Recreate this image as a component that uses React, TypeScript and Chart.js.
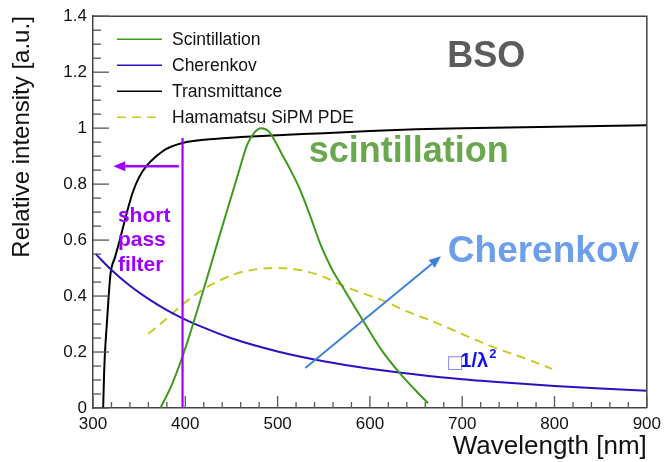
import React, { useEffect, useRef } from "react";
import { Chart, registerables } from "chart.js";

Chart.register(...registerables);

const FONT = "'Liberation Sans', Arial, Helvetica, sans-serif";

// ---- data ----
const scintWl = [373, 385, 396, 405, 414, 424, 437, 448, 458, 467, 475, 482, 490, 497, 505, 514, 523, 534, 547, 559, 570, 584, 593, 613, 633, 648, 663];
const scintVal = [0, 0.08, 0.175, 0.264, 0.36, 0.47, 0.615, 0.735, 0.845, 0.94, 0.985, 1.0, 0.99, 0.955, 0.905, 0.85, 0.79, 0.698, 0.58, 0.495, 0.435, 0.358, 0.31, 0.205, 0.122, 0.068, 0.017];

const cherWl = [303, 320, 340, 360, 380, 400, 420, 450, 500, 550, 600, 650, 700, 750, 800, 850, 900];
const cherVal = [0.55, 0.493, 0.437, 0.39, 0.35, 0.316, 0.287, 0.249, 0.202, 0.167, 0.14, 0.12, 0.103, 0.09, 0.079, 0.07, 0.062];

const transWl = [311, 312, 313, 315, 317, 319, 324, 329, 336, 343, 350, 358, 367, 379, 397, 426, 460, 500, 550, 600, 650, 700, 800, 900];
const transVal = [0, 0.12, 0.2, 0.3, 0.4, 0.48, 0.54, 0.6, 0.69, 0.77, 0.825, 0.865, 0.895, 0.925, 0.947, 0.96, 0.968, 0.975, 0.982, 0.99, 0.996, 1.0, 1.005, 1.01];

const pdeWl = [360, 380, 397, 420, 440, 460, 480, 500, 520, 545, 570, 595, 617, 640, 660, 685, 710, 739, 770, 797];
const pdeVal = [0.265, 0.32, 0.37, 0.425, 0.46, 0.485, 0.497, 0.5, 0.495, 0.475, 0.438, 0.407, 0.38, 0.345, 0.32, 0.286, 0.25, 0.211, 0.175, 0.14];

const seriesLabels = ["Scintillation", "Cherenkov", "Transmittance", "Hamamatsu SiPM PDE"];

// axis ranges / ticks
const xMin = 300, xMax = 900, xMajorStep = 100, xMinorStep = 20;
const yMin = 0, yMax = 1.4, yMajorStep = 0.2, yMinorStep = 0.05;

// annotations (data coordinates)
const filterWl = 397, filterTop = 0.965;
const filterArrowFrom = [393, 0.864], filterArrowTo = [322, 0.864];
const cherArrowFrom = [530, 0.143], cherArrowTo = [677, 0.542];
const bsoPos = [726, 1.217];
const scintTextPos = [642, 0.879];
const cherTextPos = [788, 0.521];
const filterTextPos = [327, 0.665];
const filterTextLines = ["short", "pass", "filter"];
const lambdaTextPos = [685, 0.148];

const COLORS = {
  scint: "#3d9a1a",
  cher: "#2a12c2",
  trans: "#000000",
  pde: "#c9c925",
  purple: "#a000ff",
  arrowBlue: "#3f7fdc",
};

function toXY(xs: number[], ys: number[]) {
  return xs.map((x, i) => ({ x, y: ys[i] }));
}

function drawArrow(ctx: CanvasRenderingContext2D, x1: number, y1: number, x2: number, y2: number, color: string, lw: number, head: number, hw: number) {
  const ang = Math.atan2(y2 - y1, x2 - x1);
  const bx = x2 - Math.cos(ang) * head;
  const by = y2 - Math.sin(ang) * head;
  ctx.strokeStyle = color;
  ctx.fillStyle = color;
  ctx.lineWidth = lw;
  ctx.beginPath();
  ctx.moveTo(x1, y1);
  ctx.lineTo(bx, by);
  ctx.stroke();
  ctx.beginPath();
  ctx.moveTo(x2, y2);
  ctx.lineTo(bx + Math.sin(ang) * hw, by - Math.cos(ang) * hw);
  ctx.lineTo(bx - Math.sin(ang) * hw, by + Math.cos(ang) * hw);
  ctx.closePath();
  ctx.fill();
}

const decorPlugin = {
  id: "decor",
  afterDatasetsDraw(chart: any) {
    const { ctx, chartArea: a, scales } = chart;
    const xs = scales.x, ys = scales.y;
    const px = (v: number) => xs.getPixelForValue(v);
    const py = (v: number) => ys.getPixelForValue(v);
    ctx.save();

    // frame top & right
    ctx.strokeStyle = "#444";
    ctx.lineWidth = 1.5;
    ctx.beginPath();
    ctx.moveTo(a.left, a.top);
    ctx.lineTo(a.right, a.top);
    ctx.lineTo(a.right, a.bottom);
    ctx.stroke();

    // inward ticks
    ctx.strokeStyle = "#555";
    ctx.lineWidth = 1.3;
    const nx = Math.round((xMax - xMin) / xMinorStep);
    const perX = Math.round(xMajorStep / xMinorStep);
    for (let i = 0; i <= nx; i++) {
      const v = xMin + i * xMinorStep;
      const len = i % perX === 0 ? 12 : 6;
      const X = px(v);
      ctx.beginPath();
      ctx.moveTo(X, a.bottom);
      ctx.lineTo(X, a.bottom - len);
      ctx.stroke();
    }
    const ny = Math.round((yMax - yMin) / yMinorStep);
    const perY = Math.round(yMajorStep / yMinorStep);
    for (let i = 0; i <= ny; i++) {
      const v = yMin + i * yMinorStep;
      const len = i % perY === 0 ? 16 : 8;
      const Y = py(v);
      ctx.beginPath();
      ctx.moveTo(a.left, Y);
      ctx.lineTo(a.left + len, Y);
      ctx.stroke();
    }

    // short pass filter line
    ctx.strokeStyle = COLORS.purple;
    ctx.lineWidth = 2.2;
    ctx.beginPath();
    ctx.moveTo(px(filterWl), py(0));
    ctx.lineTo(px(filterWl), py(filterTop));
    ctx.stroke();
    drawArrow(ctx, px(filterArrowFrom[0]), py(filterArrowFrom[1]), px(filterArrowTo[0]), py(filterArrowTo[1]), COLORS.purple, 2.5, 12, 5);

    // Cherenkov arrow
    drawArrow(ctx, px(cherArrowFrom[0]), py(cherArrowFrom[1]), px(cherArrowTo[0]), py(cherArrowTo[1]), COLORS.arrowBlue, 2, 12, 5);

    // texts
    ctx.textBaseline = "alphabetic";
    ctx.textAlign = "center";
    ctx.fillStyle = "#5b5b5b";
    ctx.font = `bold 36px ${FONT}`;
    ctx.fillText("BSO", px(bsoPos[0]), py(bsoPos[1]));

    ctx.fillStyle = "#6aa84f";
    ctx.font = `bold 36px ${FONT}`;
    ctx.fillText("scintillation", px(scintTextPos[0]), py(scintTextPos[1]));

    ctx.fillStyle = "#6d9eeb";
    ctx.font = `bold 37px ${FONT}`;
    ctx.fillText("Cherenkov", px(cherTextPos[0]), py(cherTextPos[1]));

    ctx.textAlign = "left";
    ctx.fillStyle = COLORS.purple;
    ctx.font = `bold 21px ${FONT}`;
    filterTextLines.forEach((t, i) => {
      ctx.fillText(t, px(filterTextPos[0]), py(filterTextPos[1]) + i * 24.5);
    });

    // proportional to 1/lambda^2 (missing-glyph box as in the reference)
    let lx = px(lambdaTextPos[0]);
    const ly = py(lambdaTextPos[1]);
    ctx.fillStyle = "#8a8aff";
    ctx.font = `18px 'DejaVu Sans', sans-serif`;
    ctx.fillText("\u25A1", lx - 2, ly + 1);
    lx += 12;
    ctx.fillStyle = "#1010ee";
    ctx.font = `bold 20px ${FONT}`;
    ctx.fillText("1/\u03BB", lx, ly);
    lx += ctx.measureText("1/\u03BB").width + 1;
    ctx.font = `bold 13px ${FONT}`;
    ctx.fillText("2", lx, ly - 9);

    // legend (no frame)
    const lgX = a.left + 24, lgY = a.top + 23, lgStep = 26;
    chart.data.datasets.forEach((ds: any, i: number) => {
      const yy = lgY + i * lgStep;
      ctx.strokeStyle = ds.borderColor;
      ctx.lineWidth = 1.6;
      ctx.setLineDash(ds.borderDash || []);
      ctx.beginPath();
      ctx.moveTo(lgX, yy);
      ctx.lineTo(lgX + 45, yy);
      ctx.stroke();
      ctx.setLineDash([]);
      ctx.fillStyle = "#111";
      ctx.font = `17.5px ${FONT}`;
      ctx.textBaseline = "middle";
      ctx.fillText(ds.label, lgX + 55, yy + 1);
    });

    ctx.restore();
  },
};

export default function App() {
  const ref = useRef<HTMLCanvasElement | null>(null);
  useEffect(() => {
    if (!ref.current) return;
    const mk = (label: string, xs: number[], vs: number[], color: string, mono: boolean, dash?: number[]) => ({
      label,
      data: toXY(xs, vs),
      borderColor: color,
      backgroundColor: color,
      borderWidth: 2,
      borderDash: dash,
      pointRadius: 0,
      fill: false,
      tension: 0.35,
      cubicInterpolationMode: mono ? ("monotone" as const) : ("default" as const),
    });
    const chart = new Chart(ref.current, {
      type: "line",
      data: {
        datasets: [
          mk(seriesLabels[0], scintWl, scintVal, COLORS.scint, true),
          mk(seriesLabels[1], cherWl, cherVal, COLORS.cher, true),
          mk(seriesLabels[2], transWl, transVal, COLORS.trans, true),
          mk(seriesLabels[3], pdeWl, pdeVal, COLORS.pde, false, [9, 6]),
        ],
      },
      options: {
        animation: false,
        responsive: false,
        layout: { padding: { top: 10, right: 18, left: 0, bottom: 0 } },
        plugins: { legend: { display: false }, tooltip: { enabled: false } },
        scales: {
          x: {
            type: "linear",
            min: xMin,
            max: xMax,
            grid: { display: false, drawTicks: false },
            border: { display: true, color: "#444", width: 1.5 },
            ticks: { stepSize: xMajorStep, padding: 6, color: "#111", font: { family: FONT, size: 17 } },
            title: { display: true, text: "Wavelength [nm]", align: "end", color: "#111", font: { family: FONT, size: 26 }, padding: { top: 0, bottom: 0 } },
            afterFit: (s: any) => { s.height = 54; },
          },
          y: {
            type: "linear",
            min: yMin,
            max: yMax,
            grid: { display: false, drawTicks: false },
            border: { display: true, color: "#444", width: 1.5 },
            ticks: {
              stepSize: yMajorStep,
              padding: 6,
              color: "#111",
              font: { family: FONT, size: 17 },
              callback: (v: any) => String(Number(Number(v).toFixed(1))),
            },
            title: { display: true, text: "Relative intensity [a.u.]", align: "end", color: "#111", font: { family: FONT, size: 24 }, padding: { top: 8, bottom: 0 } },
            afterFit: (s: any) => { s.width = 93; },
          },
        },
      },
      plugins: [decorPlugin],
    });
    return () => chart.destroy();
  }, []);
  return (
    <div style={{ position: "absolute", left: 0, top: 0, width: 667, height: 462, background: "#fff" }}>
      <canvas ref={ref} width={667} height={462} style={{ display: "block" }} />
    </div>
  );
}
